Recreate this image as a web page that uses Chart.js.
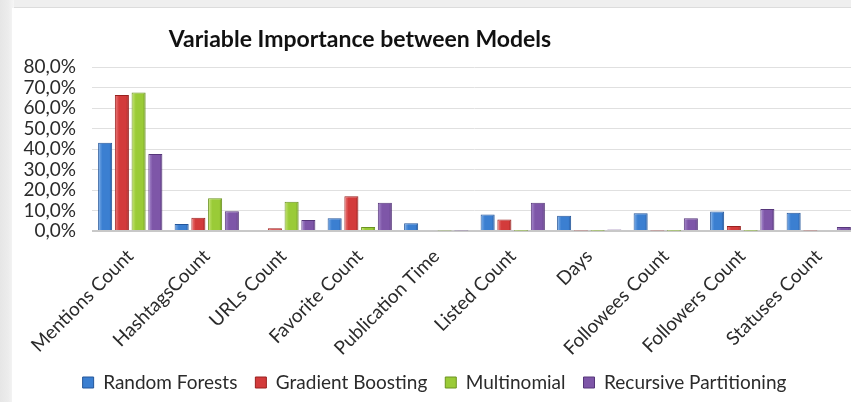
<!DOCTYPE html>
<html>
<head>
<meta charset="utf-8">
<script src="https://cdn.jsdelivr.net/npm/chart.js@4/dist/chart.umd.min.js"></script>
<style>
  html, body { margin: 0; padding: 0; overflow: hidden; width: 851px; height: 402px; background: #f0f0f0; }
  #topbar { position: absolute; left: 0; top: 0; width: 851px; height: 7px; background: #efefef; border-bottom: 1px solid #dcdcdc; }
  #leftbar { position: absolute; left: 0; top: 0; width: 14px; height: 402px;
             background: linear-gradient(to right, #e6e6e6 0, #ececec 8px, #f6f6f6 14px); }
  #panel { position: absolute; left: 12px; top: 8px; width: 860px; height: 394px; background: #fff; }
  #chart { position: absolute; left: 0; top: 0; }
</style>
</head>
<body>
<div id="topbar"></div>
<div id="leftbar"></div>
<div id="panel"><canvas id="chart" width="850" height="394"></canvas></div>
<script>
// Data (share of importance)
var categories = ['Mentions Count', 'HashtagsCount', 'URLs Count', 'Favorite Count', 'Publication Time',
                  'Listed Count', 'Days', 'Followees Count', 'Followers Count', 'Statuses Count'];
var randomForests      = [0.430, 0.034, 0.000, 0.062, 0.038, 0.080, 0.074, 0.087, 0.095, 0.089];
var gradientBoosting   = [0.663, 0.065, 0.013, 0.170, 0.000, 0.056, 0.002, 0.002, 0.025, 0.002];
var multinomial        = [0.676, 0.160, 0.143, 0.020, 0.002, 0.001, 0.001, 0.001, 0.001, 0.000];
var recursivePartition = [0.376, 0.096, 0.054, 0.138, 0.002, 0.138, 0.007, 0.062, 0.107, 0.020];
var yTicks = [0, 0.1, 0.2, 0.3, 0.4, 0.5, 0.6, 0.7, 0.8];

var font = 'Lato, "Open Sans", sans-serif';
var textColor = '#2b2b2b';

// colour sets: [light, base, dark]
var shades = {
  'Random Forests': ['#7fb0ea', '#3b7fd1', '#24569a'],
  'Gradient Boosting': ['#ee8080', '#d33b3b', '#98211f'],
  'Multinomial': ['#c8e67a', '#9acb37', '#6b9320'],
  'Recursive Partitioning': ['#ab8fd0', '#7e56a8', '#56367a']
};

// paints each bar with a left-to-right gradient for a rounded look
var barShade = {
  id: 'barShade',
  beforeDatasetsDraw: function (chart) {
    var ctx = chart.ctx;
    chart.data.datasets.forEach(function (ds, i) {
      var s = shades[ds.label];
      chart.getDatasetMeta(i).data.forEach(function (el) {
        var g = ctx.createLinearGradient(el.x - el.width / 2, 0, el.x + el.width / 2, 0);
        g.addColorStop(0, s[0]);
        g.addColorStop(0.3, s[1]);
        g.addColorStop(0.8, s[1]);
        g.addColorStop(1, s[2]);
        el.options = Object.assign({}, el.options, { backgroundColor: g });
      });
    });
  }
};

// title drawn left of centre, as in the picture
var titleText = {
  id: 'titleText',
  afterDraw: function (chart) {
    var ctx = chart.ctx;
    ctx.save();
    ctx.font = 'bold 23px ' + font;
    ctx.fillStyle = '#111';
    ctx.textAlign = 'center';
    ctx.textBaseline = 'middle';
    ctx.fillText('Variable Importance between Models', 348, 32);
    ctx.restore();
  }
};

function makeSet(label, values) {
  return {
    label: label,
    data: values,
    backgroundColor: shades[label][1],
    borderColor: shades[label][2],
    borderWidth: 1,
    categoryPercentage: 0.875,
    barPercentage: 0.84
  };
}

var chart = new Chart(document.getElementById('chart'), {
  type: 'bar',
  data: {
    labels: categories,
    datasets: [
      makeSet('Random Forests', randomForests),
      makeSet('Gradient Boosting', gradientBoosting),
      makeSet('Multinomial', multinomial),
      makeSet('Recursive Partitioning', recursivePartition)
    ]
  },
  plugins: [barShade, titleText],
  options: {
    responsive: false,
    animation: false,
    layout: { padding: { top: 59, right: 5, left: 0, bottom: 0 } },
    plugins: {
      title: { display: false },
      tooltip: { enabled: false },
      legend: {
        position: 'bottom',
        labels: {
          font: { family: font, size: 19 },
          color: textColor,
          boxWidth: 11,
          boxHeight: 11,
          padding: 18
        }
      }
    },
    scales: {
      x: {
        grid: { display: false },
        border: { display: false },
        ticks: {
          font: { family: font, size: 19 },
          color: textColor,
          minRotation: 45,
          maxRotation: 45,
          autoSkip: false,
          padding: 6
        },
        afterFit: function (scale) { scale.height = 124; }
      },
      y: {
        min: 0,
        max: 0.8,
        afterBuildTicks: function (scale) {
          scale.ticks = yTicks.map(function (v) { return { value: v }; });
        },
        grid: {
          drawTicks: false,
          color: function (c) { return c.tick.value === 0 ? '#c8c8c8' : '#e0e0e0'; },
          lineWidth: function (c) { return c.tick.value === 0 ? 2 : 1; }
        },
        border: { display: false },
        ticks: {
          font: { family: font, size: 19 },
          color: textColor,
          padding: 16,
          autoSkip: false,
          callback: function (v) { return (v * 100).toFixed(1).replace('.', ',') + '%'; }
        },
        afterFit: function (scale) { scale.width = 80; }
      }
    }
  }
});
</script>
</body>
</html>
